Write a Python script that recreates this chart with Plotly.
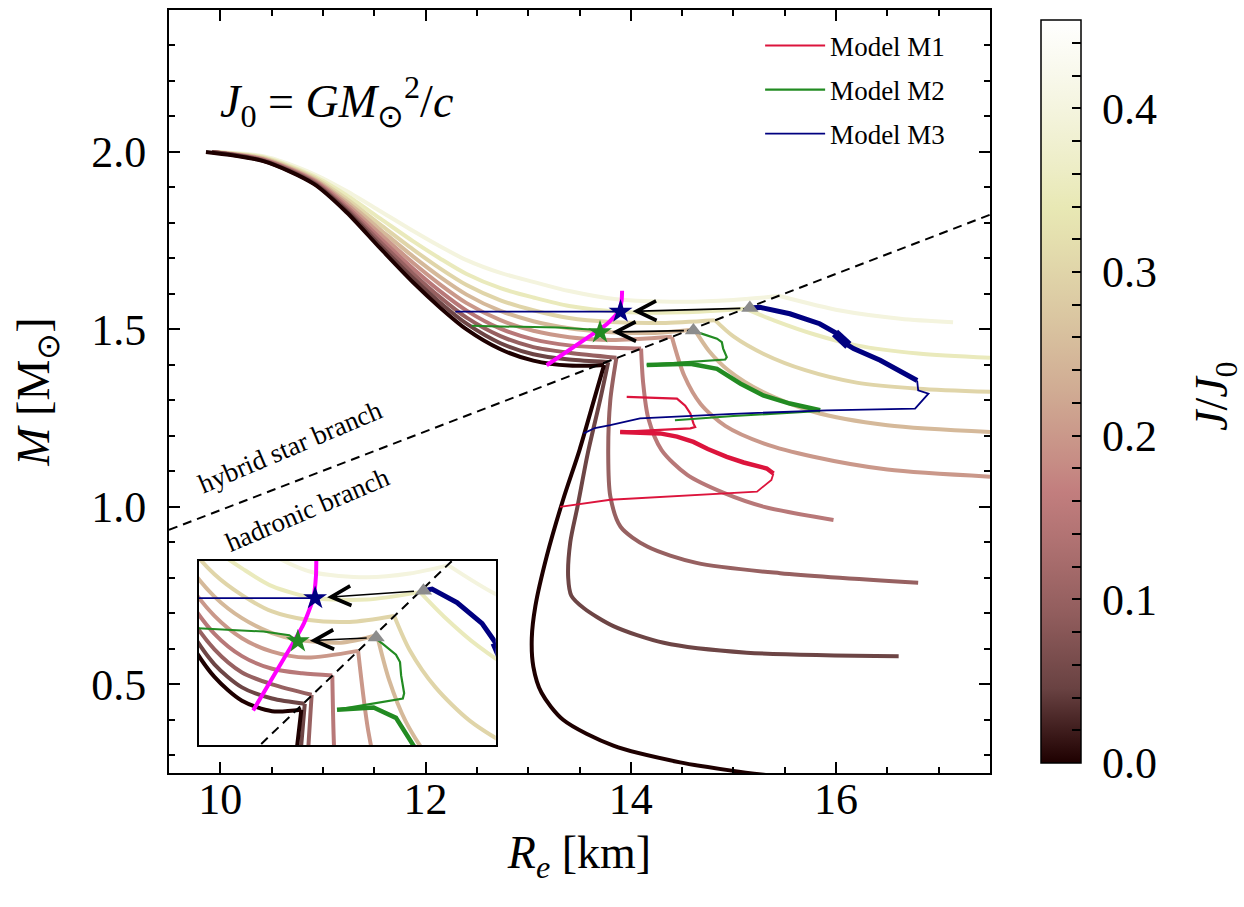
import plotly.graph_objects as go

# ---------------- data ----------------
J_MAX = 0.454          # top of colour bar (J/J0)
J_VALUES = [0.00, 0.05, 0.10, 0.15, 0.20, 0.25, 0.30, 0.35, 0.40]

# constant-J sequences: hybrid branch (left of transition) and hadronic branch
c00_hyb_x = [9.86, 10.42, 10.91, 11.23, 11.56, 11.88, 12.14, 12.40, 12.73, 13.05, 13.40, 13.74]
c00_hyb_y = [2.000, 1.974, 1.910, 1.830, 1.728, 1.632, 1.562, 1.500, 1.444, 1.412, 1.398, 1.400]
c00_had_x = [13.74, 13.64, 13.50, 13.34, 13.18, 13.07, 13.035, 13.05, 13.13, 13.34, 13.83, 14.48, 15.00, 15.50]
c00_had_y = [1.400, 1.300, 1.160, 1.020, 0.860, 0.720, 0.630, 0.550, 0.476, 0.400, 0.327, 0.280, 0.256, 0.238]

c05_hyb_x = [9.92, 10.42, 10.91, 11.23, 11.56, 11.88, 12.14, 12.40, 12.73, 13.05, 13.40, 13.78]
c05_hyb_y = [2.000, 1.975, 1.912, 1.835, 1.736, 1.644, 1.576, 1.516, 1.461, 1.430, 1.415, 1.408]
c05_had_x = [13.78, 13.70, 13.58, 13.48, 13.41, 13.39, 13.42, 13.54, 13.83, 14.32, 15.13, 16.61]
c05_had_y = [1.408, 1.300, 1.150, 1.000, 0.900, 0.800, 0.750, 0.715, 0.664, 0.617, 0.589, 0.579]

c10_hyb_x = [9.92, 10.42, 10.91, 11.23, 11.56, 11.88, 12.14, 12.40, 12.73, 13.05, 13.40, 13.86]
c10_hyb_y = [2.000, 1.976, 1.915, 1.840, 1.746, 1.657, 1.591, 1.533, 1.481, 1.450, 1.434, 1.420]
c10_had_x = [13.86, 13.80, 13.78, 13.80, 13.90, 14.16, 14.64, 15.455, 16.80]
c10_had_y = [1.420, 1.300, 1.150, 1.030, 0.944, 0.888, 0.842, 0.813, 0.786]

c15_hyb_x = [9.92, 10.42, 10.91, 11.23, 11.56, 11.88, 12.14, 12.40, 12.73, 13.05, 13.40, 13.75, 14.10]
c15_hyb_y = [2.000, 1.978, 1.918, 1.846, 1.756, 1.671, 1.608, 1.553, 1.502, 1.472, 1.455, 1.449, 1.446]
c15_had_x = [14.10, 14.12, 14.17, 14.30, 14.55, 14.90, 15.30, 15.975]
c15_had_y = [1.446, 1.350, 1.250, 1.160, 1.090, 1.040, 1.000, 0.963]

c20_hyb_x = [9.92, 10.42, 10.91, 11.23, 11.56, 11.88, 12.14, 12.40, 12.73, 13.05, 13.40, 13.80, 14.40]
c20_hyb_y = [2.000, 1.979, 1.921, 1.853, 1.768, 1.687, 1.627, 1.574, 1.526, 1.496, 1.478, 1.470, 1.479]
c20_had_x = [14.40, 14.52, 14.68, 14.92, 15.30, 15.78, 16.50, 17.50]
c20_had_y = [1.479, 1.370, 1.290, 1.228, 1.178, 1.141, 1.105, 1.085]

c25_hyb_x = [9.92, 10.42, 10.91, 11.23, 11.56, 11.88, 12.14, 12.40, 12.73, 13.05, 13.40, 13.70, 14.20, 14.62]
c25_hyb_y = [2.000, 1.981, 1.924, 1.860, 1.781, 1.705, 1.648, 1.598, 1.552, 1.523, 1.503, 1.494, 1.490, 1.500]
c25_had_x = [14.62, 14.76, 14.95, 15.28, 15.78, 16.50, 17.50]
c25_had_y = [1.500, 1.440, 1.385, 1.325, 1.268, 1.230, 1.211]

c30_hyb_x = [9.92, 10.42, 10.91, 11.23, 11.56, 11.88, 12.14, 12.40, 12.73, 13.05, 13.40, 13.80, 14.30, 14.82]
c30_hyb_y = [2.000, 1.983, 1.928, 1.868, 1.795, 1.725, 1.672, 1.625, 1.582, 1.554, 1.532, 1.521, 1.518, 1.526]
c30_had_x = [14.82, 15.00, 15.30, 15.70, 16.20, 16.80, 17.50]
c30_had_y = [1.526, 1.480, 1.430, 1.385, 1.350, 1.333, 1.324]

c35_hyb_x = [9.92, 10.42, 10.91, 11.23, 11.56, 11.88, 12.14, 12.40, 12.73, 13.05, 13.40, 13.90, 14.50, 15.12]
c35_hyb_y = [2.000, 1.985, 1.932, 1.878, 1.812, 1.748, 1.700, 1.656, 1.616, 1.590, 1.566, 1.550, 1.548, 1.558]
c35_had_x = [15.12, 15.40, 15.80, 16.20, 16.80, 17.50]
c35_had_y = [1.558, 1.525, 1.485, 1.455, 1.432, 1.420]

c40_hyb_x = [9.92, 10.42, 10.91, 11.23, 11.56, 11.88, 12.14, 12.40, 12.73, 13.05, 13.40, 13.86, 14.50, 15.00, 15.45]
c40_hyb_y = [2.000, 1.988, 1.938, 1.890, 1.833, 1.777, 1.734, 1.695, 1.659, 1.634, 1.608, 1.585, 1.578, 1.583, 1.594]
c40_had_x = [15.45, 16.04, 16.625, 17.14]
c40_had_y = [1.594, 1.553, 1.530, 1.520]

# phase-transition line
dash_x = [9.5, 17.5]
dash_y = [0.935, 1.823]

# magenta line
magenta_x = [13.18, 13.636, 13.77, 13.88, 13.91, 13.915]
magenta_y = [1.399, 1.488, 1.516, 1.550, 1.580, 1.609]

# Model M1 track
m1_thin_a_x = [13.31, 13.80, 15.23, 15.37, 15.39]
m1_thin_a_y = [1.000, 1.020, 1.043, 1.076, 1.094]
m1_thick_x = [15.39, 15.325, 15.10, 14.935, 14.75, 14.61, 14.45, 14.285, 13.896]
m1_thick_y = [1.094, 1.108, 1.125, 1.141, 1.163, 1.183, 1.198, 1.207, 1.211]
m1_thin_b_x = [13.896, 14.58, 14.627, 14.61, 14.58, 14.53, 14.45, 13.96]
m1_thin_b_y = [1.211, 1.221, 1.225, 1.235, 1.263, 1.285, 1.305, 1.310]

# Model M2 track
m2_thin_a_x = [14.43, 15.00, 15.845]
m2_thin_a_y = [1.244, 1.256, 1.270]
m2_thick_x = [15.845, 15.55, 15.29, 15.07, 14.84, 14.58, 14.155]
m2_thick_y = [1.272, 1.291, 1.314, 1.347, 1.389, 1.403, 1.400]
m2_thin_b_x = [14.155, 14.92, 14.935, 14.90, 14.887, 14.84, 14.69, 14.61]
m2_thin_b_y = [1.400, 1.415, 1.422, 1.446, 1.464, 1.474, 1.488, 1.495]
m2_hyb_x = [12.45, 13.30, 13.60, 13.70]
m2_hyb_y = [1.510, 1.505, 1.500, 1.492]

# Model M3 track
m3_thin_a_x = [13.54, 13.65, 13.80, 14.09, 15.00, 15.91, 16.77, 16.90, 16.80, 16.79]
m3_thin_a_y = [1.207, 1.222, 1.230, 1.249, 1.262, 1.272, 1.277, 1.319, 1.328, 1.356]
m3_thick_x = [16.79, 16.43, 16.17, 16.07, 16.01, 15.84, 15.55, 15.26, 15.16]
m3_thick_y = [1.356, 1.413, 1.446, 1.464, 1.488, 1.516, 1.544, 1.562, 1.560]
m3_blob_x = [16.12, 16.06, 15.99]
m3_blob_y = [1.455, 1.472, 1.490]
m3_hyb_x = [12.29, 13.90]
m3_hyb_y = [1.550, 1.550]

# transition (triangle) and collapse end-point (star) for M2, M3
tri_x = [14.61, 15.16]
tri_y = [1.497, 1.560]
star_x = [13.70, 13.90]
star_y = [1.492, 1.550]
star_col = ["#228B22", "#000080"]

# ---------------- style ----------------
FONT = "Liberation Serif"
PINK = [(0.0, "#1e0000"), (0.1, "#694242"), (0.2, "#915d5d"), (0.3, "#b07272"),
        (0.365, "#c27e7e"), (0.4, "#c68b84"), (0.5, "#d0ab93"), (0.6, "#dac6a1"),
        (0.7, "#e4deae"), (0.746, "#e8e8b4"), (0.8, "#ededc6"), (0.9, "#f6f6e4"),
        (1.0, "#ffffff")]


def _rgb(h):
    return tuple(int(h[i:i + 2], 16) for i in (1, 3, 5))


def cmap(t):
    t = max(0.0, min(1.0, t))
    for (t0, c0), (t1, c1) in zip(PINK[:-1], PINK[1:]):
        if t0 <= t <= t1:
            f = (t - t0) / (t1 - t0)
            a, b = _rgb(c0), _rgb(c1)
            return "rgb(%d,%d,%d)" % tuple(round(a[k] + f * (b[k] - a[k])) for k in range(3))
    return PINK[-1][1]


RED, GREEN, BLUE = "#DC143C", "#228B22", "#000080"

curves = [
    (0.00, c00_hyb_x, c00_hyb_y, c00_had_x, c00_had_y),
    (0.05, c05_hyb_x, c05_hyb_y, c05_had_x, c05_had_y),
    (0.10, c10_hyb_x, c10_hyb_y, c10_had_x, c10_had_y),
    (0.15, c15_hyb_x, c15_hyb_y, c15_had_x, c15_had_y),
    (0.20, c20_hyb_x, c20_hyb_y, c20_had_x, c20_had_y),
    (0.25, c25_hyb_x, c25_hyb_y, c25_had_x, c25_had_y),
    (0.30, c30_hyb_x, c30_hyb_y, c30_had_x, c30_had_y),
    (0.35, c35_hyb_x, c35_hyb_y, c35_had_x, c35_had_y),
    (0.40, c40_hyb_x, c40_hyb_y, c40_had_x, c40_had_y),
]

fig = go.Figure()

for xa, ya in [("x", "y"), ("x2", "y2")]:
    main = xa == "x"
    # constant-J curves (high J first so that low J lies on top)
    for J, hx, hy, dx, dy in reversed(curves):
        col = cmap(J / J_MAX)
        for xs, ys in [(hx, hy), (dx, dy)]:
            fig.add_trace(go.Scatter(x=xs, y=ys, mode="lines", xaxis=xa, yaxis=ya,
                                     line=dict(color=col, width=4, shape="spline", smoothing=0.8),
                                     showlegend=False, hoverinfo="skip"))
    # dashed transition line
    fig.add_trace(go.Scatter(x=dash_x, y=dash_y, mode="lines", xaxis=xa, yaxis=ya,
                             line=dict(color="black", width=2, dash="9px,6px"),
                             showlegend=False, hoverinfo="skip"))
    # magenta line
    fig.add_trace(go.Scatter(x=magenta_x, y=magenta_y, mode="lines", xaxis=xa, yaxis=ya,
                             line=dict(color="#FF00FF", width=4, shape="spline", smoothing=0.5),
                             showlegend=False, hoverinfo="skip"))
    # model tracks
    tracks = [
        ("Model M1", RED, [(m1_thin_a_x, m1_thin_a_y, 1.8), (m1_thick_x, m1_thick_y, 4.5),
                           (m1_thin_b_x, m1_thin_b_y, 2.2)]),
        ("Model M2", GREEN, [(m2_thin_a_x, m2_thin_a_y, 2.2), (m2_thick_x, m2_thick_y, 4.5),
                             (m2_thin_b_x, m2_thin_b_y, 2.2), (m2_hyb_x, m2_hyb_y, 2.0)]),
        ("Model M3", BLUE, [(m3_thin_a_x, m3_thin_a_y, 1.8), (m3_thick_x, m3_thick_y, 5.0),
                            (m3_blob_x, m3_blob_y, 9.0), (m3_hyb_x, m3_hyb_y, 1.8)]),
    ]
    for name, col, parts in tracks:
        for k, (xs, ys, w) in enumerate(parts):
            fig.add_trace(go.Scatter(x=xs, y=ys, mode="lines", xaxis=xa, yaxis=ya,
                                     line=dict(color=col, width=w),
                                     name=name, legendgroup=name,
                                     showlegend=(main and k == 0), hoverinfo="skip"))
    # triangles and stars
    fig.add_trace(go.Scatter(x=tri_x, y=tri_y, mode="markers", xaxis=xa, yaxis=ya,
                             marker=dict(symbol="triangle-up", size=15, color="#8c8c8c"),
                             showlegend=False, hoverinfo="skip"))
    fig.add_trace(go.Scatter(x=star_x, y=star_y, mode="markers", xaxis=xa, yaxis=ya,
                             marker=dict(symbol="star", size=18, color=star_col),
                             showlegend=False, hoverinfo="skip"))
    # arrows from transition point to collapsed configuration
    for tx, ty, sx, sy in zip(tri_x, tri_y, star_x, star_y):
        fig.add_annotation(x=sx, y=sy, ax=tx, ay=ty, xref=xa, yref=ya, axref=xa, ayref=ya,
                           showarrow=True, arrowhead=5, arrowsize=2.4, arrowwidth=1.6,
                           arrowcolor="black", standoff=12, startstandoff=8, text="")

# colour bar carrier
cb_ticks = [i * 0.02 for i in range(23)]
cb_text = [("\u00a0%.1f" % v) if i % 5 == 0 else "" for i, v in enumerate(cb_ticks)]
colorbar = dict(
    x=1.050, xanchor="left", y=0.5, yanchor="middle",
    len=1.0, lenmode="fraction", thickness=40,
    outlinecolor="black", outlinewidth=1.5,
    tickmode="array", tickvals=cb_ticks, ticktext=cb_text,
    ticks="inside", ticklen=9, tickwidth=1.5, tickcolor="black",
    tickfont=dict(family=FONT, size=44, color="black"),
)
cb_marker = dict(size=0.1, opacity=0, color=[0.0], cmin=0, cmax=J_MAX,
                 colorscale=[[t, c] for t, c in PINK], showscale=True, colorbar=colorbar)
fig.add_trace(go.Scatter(x=[13.0], y=[2.3], mode="markers", hoverinfo="skip",
                         showlegend=False, marker=cb_marker))

axis_common = dict(showline=True, linecolor="black", linewidth=2, mirror="ticks",
                   ticks="inside", ticklen=11, tickwidth=1.5, tickcolor="black",
                   showgrid=False, zeroline=False,
                   tickfont=dict(family=FONT, size=44, color="black"))

fig.update_layout(
    width=1244, height=907, autosize=False,
    margin=dict(l=169, r=254, t=8, b=134),
    plot_bgcolor="white", paper_bgcolor="white",
    font=dict(family=FONT, color="black"),
    xaxis=dict(range=[9.5, 17.5], tick0=0, dtick=2, domain=[0, 1],
               minor=dict(tick0=0, dtick=0.5, ticks="inside", ticklen=6, tickwidth=1.5,
                          tickcolor="black", showgrid=False),
               ticklabelstandoff=-14,
               title=dict(text="<i>R<sub>e</sub></i> [km]", standoff=13,
                          font=dict(family=FONT, size=46, color="black")),
               **axis_common),
    yaxis=dict(range=[0.25, 2.4], tick0=0, dtick=0.5, tickformat=".1f", domain=[0, 1],
               minor=dict(tick0=0, dtick=0.1, ticks="inside", ticklen=6, tickwidth=1.5,
                          tickcolor="black", showgrid=False),
               ticklabelstandoff=12,
               title=dict(text="<i>M</i> [M<sub>⊙</sub>]", standoff=27,
                          font=dict(family=FONT, size=46, color="black")),
               **axis_common),
    xaxis2=dict(domain=[0.0365, 0.398], anchor="y2", range=[12.55, 16.0],
                showline=True, linecolor="black", linewidth=2, mirror=True,
                ticks="", showticklabels=False, showgrid=False, zeroline=False),
    yaxis2=dict(domain=[0.0362, 0.278], anchor="x2", range=[1.352, 1.60],
                showline=True, linecolor="black", linewidth=2, mirror=True,
                ticks="", showticklabels=False, showgrid=False, zeroline=False),
    legend=dict(x=0.72, y=0.985, xanchor="left", yanchor="top", bgcolor="rgba(0,0,0,0)",
                font=dict(family=FONT, size=27, color="black"), itemwidth=60,
                tracegroupgap=6),
    shapes=[dict(type="rect", xref="x2 domain", yref="y2 domain", x0=0, x1=1, y0=0, y1=1,
                 fillcolor="white", line=dict(width=0), layer="below")],
)

fig.add_annotation(x=9.98, y=2.143, xref="x", yref="y", xanchor="left", yanchor="middle",
                   showarrow=False,
                   text="<i>J</i><sub>0</sub> = <i>GM</i><sub>⊙</sub><sup>2</sup>/<i>c</i>",
                   font=dict(family=FONT, size=46, color="black"))
fig.add_annotation(x=10.68, y=1.168, xref="x", yref="y", showarrow=False, textangle=-23,
                   text="hybrid star branch", font=dict(family=FONT, size=27, color="black"))
fig.add_annotation(x=10.845, y=0.991, xref="x", yref="y", showarrow=False, textangle=-23,
                   text="hadronic branch", font=dict(family=FONT, size=27, color="black"))
# colour-bar label
fig.add_annotation(x=1.274, y=0.494, xref="paper", yref="paper", xanchor="center",
                   yanchor="middle", showarrow=False,
                   textangle=-90, text="<i>J</i>/<i>J</i><sub>0</sub>",
                   font=dict(family=FONT, size=46, color="black"))

fig.write_html("out.html")
